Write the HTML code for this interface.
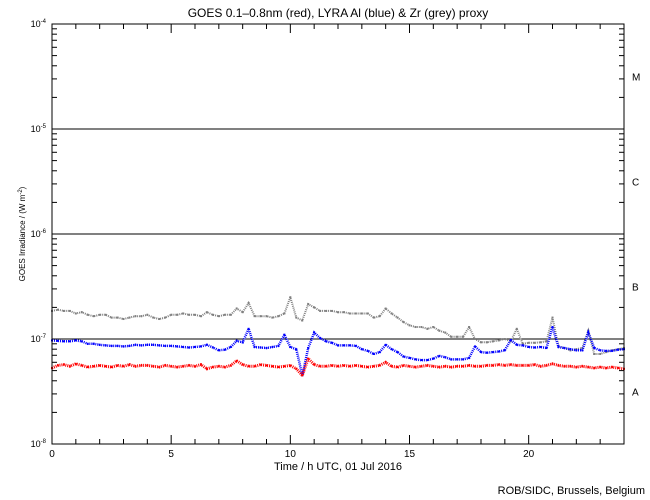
<!DOCTYPE html>
<html><head><meta charset="utf-8"><style>
body{margin:0;background:#fff;}
svg{display:block;font-family:"Liberation Sans",sans-serif;}
</style></head><body>
<svg id="chart" width="650" height="500">
<text x="338" y="17" font-size="12" text-anchor="middle">GOES 0.1–0.8nm (red), LYRA Al (blue) &amp; Zr (grey) proxy</text>
<text x="338" y="470" font-size="11" text-anchor="middle">Time / h UTC, 01 Jul 2016</text>
<text transform="translate(25,234) rotate(-90)" font-size="8" text-anchor="middle">GOES Irradiance / (W m<tspan dy="-3" font-size="6">-2</tspan><tspan dy="3">)</tspan></text>
<text x="645" y="494" font-size="11" text-anchor="end">ROB/SIDC, Brussels, Belgium</text>
<g id="grid"></g><g id="ticks"></g><g id="series"></g>
<rect x="52" y="24" width="572" height="420" fill="none" stroke="#000" stroke-width="1"/>
</svg>
<script>
// values in units of 1e-7 W/m^2, sampled every 0.25 h from 0 to 24
const hours = Array.from({length:97},(_,i)=>i*0.25);
const greyVals=[1.85,1.9,1.85,1.85,1.75,1.8,1.7,1.65,1.7,1.7,1.6,1.6,1.55,1.6,1.65,1.65,1.7,1.6,1.55,1.6,1.7,1.7,1.75,1.7,1.7,1.65,1.8,1.7,1.65,1.7,1.7,1.95,1.8,2.2,1.65,1.65,1.65,1.6,1.65,1.75,2.5,1.6,1.5,2.15,2.0,1.85,1.85,1.85,1.8,1.8,1.75,1.75,1.75,1.75,1.6,1.65,1.95,1.75,1.6,1.45,1.35,1.3,1.3,1.25,1.3,1.2,1.15,1.05,1.05,1.05,1.3,1.0,0.93,0.93,0.95,0.97,1.0,0.95,1.25,0.9,0.92,0.92,0.93,0.95,1.6,0.85,0.82,0.78,0.8,0.82,1.2,0.72,0.72,0.75,0.78,0.8,0.82];
const blueVals=[0.97,0.96,0.95,0.95,0.97,0.95,0.9,0.9,0.88,0.87,0.86,0.86,0.85,0.86,0.88,0.87,0.88,0.88,0.87,0.86,0.86,0.85,0.84,0.83,0.84,0.85,0.88,0.83,0.78,0.79,0.84,0.96,0.93,1.25,0.84,0.83,0.82,0.84,0.86,1.1,0.84,0.8,0.45,0.82,1.15,1.02,0.95,0.92,0.87,0.87,0.87,0.86,0.8,0.77,0.72,0.75,0.88,0.8,0.75,0.68,0.66,0.64,0.63,0.63,0.65,0.69,0.67,0.64,0.64,0.64,0.66,0.85,0.75,0.74,0.75,0.76,0.78,0.98,0.88,0.87,0.84,0.83,0.84,0.82,1.3,0.84,0.82,0.8,0.78,0.78,1.15,0.82,0.78,0.77,0.77,0.79,0.8];
const redVals=[0.53,0.56,0.57,0.55,0.58,0.56,0.54,0.55,0.56,0.55,0.54,0.56,0.55,0.57,0.55,0.56,0.56,0.55,0.54,0.56,0.55,0.54,0.55,0.56,0.55,0.57,0.52,0.54,0.55,0.54,0.56,0.62,0.57,0.55,0.55,0.57,0.56,0.55,0.54,0.55,0.56,0.52,0.45,0.65,0.57,0.55,0.55,0.56,0.55,0.56,0.55,0.56,0.55,0.54,0.55,0.56,0.6,0.55,0.54,0.56,0.55,0.54,0.55,0.56,0.55,0.54,0.55,0.54,0.55,0.55,0.56,0.55,0.55,0.56,0.56,0.57,0.56,0.57,0.56,0.56,0.56,0.57,0.55,0.56,0.58,0.56,0.55,0.55,0.54,0.55,0.54,0.53,0.54,0.53,0.54,0.53,0.52];
const xTickLabels=["0","5","10","15","20"];
const decades=[-4,-5,-6,-7,-8];
const classLabels=["M","C","B","A"];

const NS="http://www.w3.org/2000/svg";
const X0=52,X1=624,Y0=24,DEC=105;
const xs=h=>X0+(X1-X0)*h/24;
const ys=v=>Y0+(-4-Math.log10(v))*DEC;
function mk(tag,attrs,parent){const e=document.createElementNS(NS,tag);for(const k in attrs)e.setAttribute(k,attrs[k]);parent.appendChild(e);return e;}
const grid=document.getElementById('grid'),ticks=document.getElementById('ticks'),ser=document.getElementById('series');

decades.forEach((d,i)=>{
  const y=ys(Math.pow(10,d));
  if(d>-8&&d<-4){const l=mk('line',{x1:X0,x2:X1,y1:y,y2:y,stroke:'#000','stroke-width':1},grid);
    
    }
  const t=mk('text',{x:46,y:y+3,'font-size':9,'text-anchor':'end'},ticks);
  
  
  t.innerHTML='10<tspan dy="-4" font-size="6">'+d+'</tspan>';
  if(d>-8){for(let m=2;m<=9;m++){const yy=ys(m*Math.pow(10,d-1));
    mk('line',{x1:X0,x2:X0+5,y1:yy,y2:yy,stroke:'#000'},ticks);
    mk('line',{x1:X1,x2:X1-5,y1:yy,y2:yy,stroke:'#000'},ticks);}}
});
classLabels.forEach((c,i)=>{
  const t=mk('text',{x:632,y:ys(Math.pow(10,-4.5-i))+4,'font-size':10},ticks);
  
  
  t.textContent=c;
});
for(let h=0;h<=24;h++){
  const x=xs(h),len=h%5===0?9:5;
  mk('line',{x1:x,x2:x,y1:444,y2:444-len,stroke:'#000'},ticks);
  mk('line',{x1:x,x2:x,y1:24,y2:24+len,stroke:'#000'},ticks);
}
xTickLabels.forEach((s,i)=>{
  const t=mk('text',{x:xs(i*5),y:457,'font-size':10,'text-anchor':'middle'},ticks);
  
  
  t.textContent=s;
});
function drawSeries(vals,color,name,w){
  const g=mk('g',{},ser);
  
  
  const pts=vals.map((v,i)=>xs(hours[i]).toFixed(1)+','+ys(v*1e-7).toFixed(1)).join(' ');
  mk('polyline',{points:pts,fill:'none',stroke:color,'stroke-width':w,'stroke-dasharray':'1 1'},g);
  vals.forEach((v,i)=>{const r=mk('rect',{x:xs(hours[i])-1,y:ys(v*1e-7)-1,width:2,height:2,fill:color},g);
    
    });
}
drawSeries(greyVals,'#808080','zr-series',2);
drawSeries(blueVals,'#0000ff','al-series',2.5);
drawSeries(redVals,'#ff0000','goes-series',3);
</script>
</body></html>
